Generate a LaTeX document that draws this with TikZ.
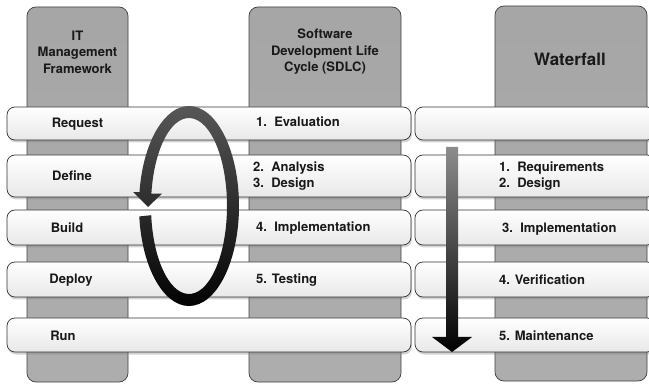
\documentclass[tikz,border=0pt]{standalone}
\usepackage{fontspec}
\setmainfont{TeX Gyre Heros}
\usetikzlibrary{shadows,calc}

\begin{document}
\begin{tikzpicture}[x=1pt,y=1pt,
    col/.style={draw=black!75, line width=0.7pt, rounded corners=9pt, top color=black!35, middle color=black!15, bottom color=black!32, minimum height=375},
    bar/.style={draw=black!80, line width=0.7pt, rounded corners=8pt, top color=white, bottom color=black!9, drop shadow={shadow xshift=1pt, shadow yshift=-2.5pt, opacity=0.35}},
    lbl/.style={font=\bfseries\fontsize{13}{16.5}\selectfont, text=black!90},
    ringshade/.style={top color=black!65, bottom color=black},
    downshade/.style={top color=black!45, middle color=black!95, bottom color=black}]
        \tikzstyle{every node}+=[inner sep=0pt]
        \useasboundingbox (0,0) rectangle (649,-385);
        \node [col, minimum width=101] (itcol) at (77.5,-194.5) {};
        \node [col, minimum width=152] (sdlccol) at (325,-194.5) {};
        \node [col, minimum width=152] (wfcol) at (571,-193.5) {};
        \node [lbl, align=center] (ittitle) at (77.5,-52) {IT\\Management\\Framework};
        \node [lbl, align=center] (sdlctitle) at (325,-52) {Software\\Development Life\\Cycle (SDLC)};
        \node [lbl, font=\bfseries\fontsize{17}{20}\selectfont] (wftitle) at (570,-59) {Waterfall};
        \node [bar, minimum width=404, minimum height=33] (request) at (209,-123.5) {};
        \node [bar, minimum width=404, minimum height=42] (define) at (209,-176) {};
        \node [bar, minimum width=404, minimum height=35] (build) at (209,-227.5) {};
        \node [bar, minimum width=404, minimum height=35] (deploy) at (209,-279.5) {};
        \node [bar, minimum width=404, minimum height=34] (run) at (209,-335) {};
        \node [bar, minimum width=240, minimum height=33] (wfone) at (535,-123.5) {};
        \node [bar, minimum width=240, minimum height=42] (wftwo) at (535,-176) {};
        \node [bar, minimum width=240, minimum height=35] (wfthree) at (535,-227.5) {};
        \node [bar, minimum width=240, minimum height=35] (wffour) at (535,-279.5) {};
        \node [bar, minimum width=240, minimum height=34] (wffive) at (535,-335) {};
        \node [lbl] (lrequest) at (77.5,-124) {Request};
        \node [lbl] (ldefine) at (72,-176) {Define};
        \node [lbl] (lbuild) at (67,-228) {Build};
        \node [lbl] (ldeploy) at (71,-280) {Deploy};
        \node [lbl] (lrun) at (63,-336) {Run};
        \node [lbl, anchor=west] (seval) at (256,-122) {1.\ \ Evaluation};
        \node [lbl, anchor=west, align=left] (sanalysis) at (253,-176) {2.\ \ Analysis\\3.\ \ Design};
        \node [lbl, anchor=west] (simpl) at (256,-228) {4.\ \ Implementation};
        \node [lbl, anchor=west] (stest) at (256,-280) {5. Testing};
        \node [lbl, anchor=west, align=left] (wreq) at (499,-176) {1.\ \ Requirements\\2.\ \ Design};
        \node [lbl, anchor=west] (wimpl) at (502,-229) {3.\ \ Implementation};
        \node [lbl, anchor=west] (wverif) at (499,-280) {4. Verification};
        \node [lbl, anchor=west] (wmaint) at (499,-336) {5. Maintenance};
        \coordinate (cycle) at (189,-206);
        \shade [ringshade] ($(cycle)+(186:50 and 100)$) arc [start angle=186, end angle=532, x radius=50, y radius=100]
            -- ($(cycle)+(-56,14)$) -- ($(cycle)+(-41,-1)$) -- ($(cycle)+(-27,12.4)$)
            -- ($(cycle)+(172:38 and 88)$) arc [start angle=172, end angle=-174, x radius=38, y radius=88] -- cycle;
        \coordinate (wftop) at (452,-147);
        \coordinate (wfbot) at (452,-352);
        \shade [downshade] ($(wftop)+(-6,0)$) -- ($(wfbot)+(-6,15)$) -- ($(wfbot)+(-20,15)$) -- (wfbot)
            -- ($(wfbot)+(20,15)$) -- ($(wfbot)+(6,15)$) -- ($(wftop)+(6,0)$) -- cycle;
\end{tikzpicture}
\end{document}
